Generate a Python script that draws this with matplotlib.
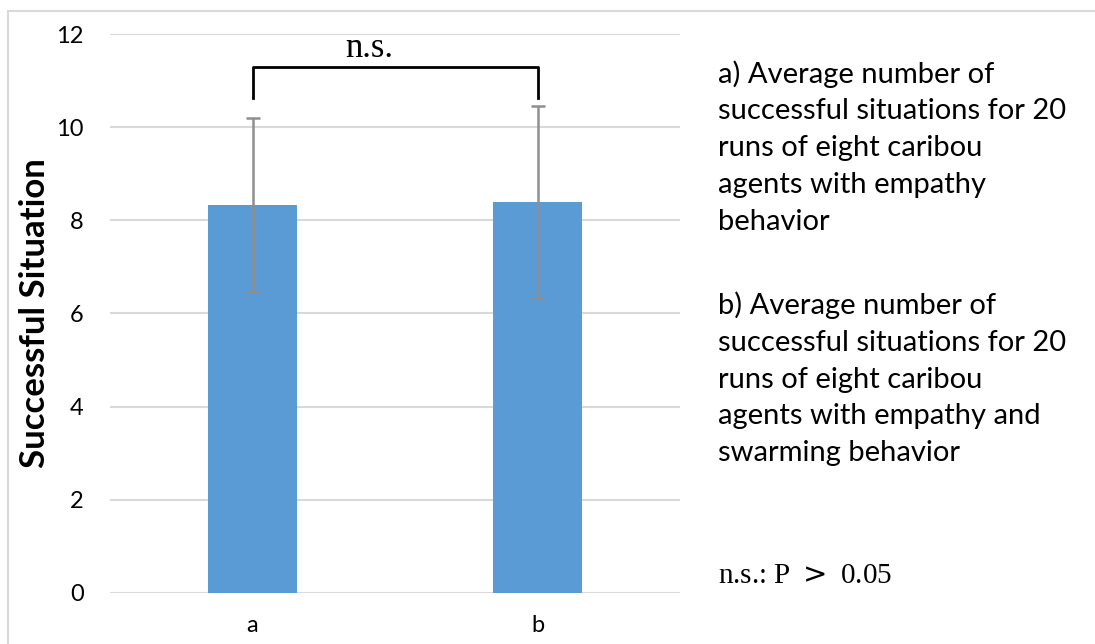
import matplotlib
matplotlib.use("Agg")
import matplotlib.pyplot as plt
from matplotlib.patches import Rectangle

# bar data: mean successful situations and their spread
categories = ["a", "b"]
means = [8.33, 8.39]
errors = [1.87, 2.06]

# significance bracket between the two bars
bracket_low = 10.62
bracket_high = 11.29
sig_label = "n.s."

notes = [
    "a) Average number of\nsuccessful situations for 20\nruns of eight caribou\nagents with empathy\nbehavior",
    "b) Average number of\nsuccessful situations for 20\nruns of eight caribou\nagents with empathy and\nswarming behavior",
]
p_note = "n.s.: P $>$ 0.05"

BAR_COLOR = "#5b9bd5"
GRID_COLOR = "#d9d9d9"
ERR_COLOR = "#8f8f8f"
SANS = "Lato"

plt.rcParams["font.family"] = [SANS, "DejaVu Sans"]
plt.rcParams["xtick.labelsize"] = 17
plt.rcParams["ytick.labelsize"] = 17

fig = plt.figure(figsize=(10.95, 6.44), dpi=100)
fig.patches.append(Rectangle((0.007, -0.01), 1.0, 0.993, transform=fig.transFigure,
                             fill=False, edgecolor=GRID_COLOR, linewidth=1.5))

ax = fig.add_axes([0.1005, 0.0792, 0.5205, 0.868])
x = list(range(len(categories)))
ax.bar(x, means, width=0.315, color=BAR_COLOR, zorder=2)
ax.errorbar(x, means, yerr=errors, fmt="none", ecolor=ERR_COLOR,
            elinewidth=1.8, capsize=5, capthick=1.8, zorder=3)

ax.set_xlim(-0.5, 1.5)
ax.set_ylim(0, 12)
ax.set_yticks(range(0, 13, 2))
ax.set_xticks(x)
ax.set_xticklabels(categories)
ax.tick_params(length=0)
ax.tick_params(axis="x", pad=16)
ax.tick_params(axis="y", pad=19)
ax.yaxis.grid(True, color=GRID_COLOR, linewidth=1.5, zorder=0)
ax.set_axisbelow(True)
for s in ax.spines.values():
    s.set_visible(False)
ax.set_ylabel("Successful Situation", fontsize=25, fontweight="bold", labelpad=4)

# bracket marking the comparison
ax.plot([x[0], x[0], x[1], x[1]],
        [bracket_low, bracket_high, bracket_high, bracket_low],
        color="black", linewidth=2, clip_on=False)
ax.text(0.41, 11.5, sig_label, ha="center", va="baseline",
        fontsize=25, family="Liberation Serif")

fig.text(0.656, 0.907, notes[0], ha="left", va="top", fontsize=21,
         linespacing=1.52)
fig.text(0.656, 0.548, notes[1], ha="left", va="top", fontsize=21,
         linespacing=1.52)
fig.text(0.656, 0.085, p_note, ha="left", va="bottom", fontsize=21,
         family="Liberation Serif")

fig.savefig("out.png", dpi=100)
